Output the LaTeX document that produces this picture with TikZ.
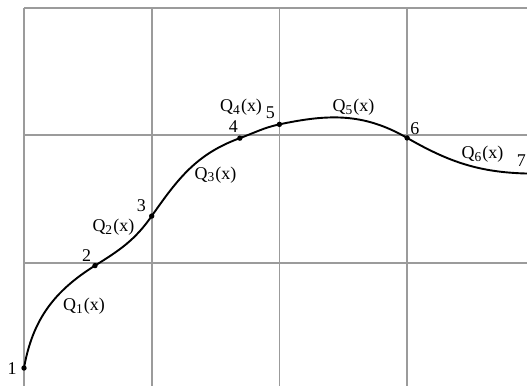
\documentclass[tikz,border=0pt]{standalone}
\usepackage{fontspec}
\setmainfont{Liberation Serif}
\usepackage{tikz}
\usetikzlibrary{arrows.meta,calc,positioning}
\definecolor{GridGray}{RGB}{155,155,155}

\begin{document}
\begin{tikzpicture}[x=2cm,y=2cm,font=\fontsize{8}{9.6}\selectfont]
      \useasboundingbox (-0.188,-0.955) rectangle (3.939,2.06);
      \clip (-0.188,-0.955) rectangle (3.939,2.06);
      % grid
      \foreach \gx in {0,1,2,3}
        \draw[GridGray,line width=0.8pt] (\gx,-1) -- (\gx,2);
      \foreach \gy in {0,1,2}
        \draw[GridGray,line width=0.8pt] (0,\gy) -- (4.2,\gy);
      % knots
      \coordinate (p1) at (0,-0.822);
      \coordinate (p2) at (0.556,-0.02);
      \coordinate (p3) at (1,0.368);
      \coordinate (p4) at (1.69,0.978);
      \coordinate (p5) at (2,1.086);
      \coordinate (p6) at (3,0.98);
      \coordinate (p7) at (4.02,0.70);
      \draw[line width=0.85pt] (p1) to[out=80,in=212] (p2)
        to[out=32,in=235] (p3) to[out=55,in=200] (p4)
        to[out=20,in=192] (p5) to[out=12,in=150] (p6)
        to[out=-30,in=180] (p7);
      \foreach \k in {1,...,6}
        \fill (p\k) circle (1.2pt);
      \node (n1) at (-0.094,-0.83) {1};
      \node (n2) at (0.49,0.055) {2};
      \node (n3) at (0.92,0.45) {3};
      \node (n4) at (1.64,1.065) {4};
      \node (n5) at (1.93,1.18) {5};
      \node (n6) at (3.06,1.05) {6};
      \node (n7) at (3.895,0.80) {7};
      \node (q1) at (0.47,-0.34) {Q\textsubscript{1}(x)};
      \node (q2) at (0.70,0.28) {Q\textsubscript{2}(x)};
      \node (q3) at (1.50,0.69) {Q\textsubscript{3}(x)};
      \node (q4) at (1.70,1.22) {Q\textsubscript{4}(x)};
      \node (q5) at (2.58,1.22) {Q\textsubscript{5}(x)};
      \node (q6) at (3.59,0.85) {Q\textsubscript{6}(x)};
\end{tikzpicture}
\end{document}
